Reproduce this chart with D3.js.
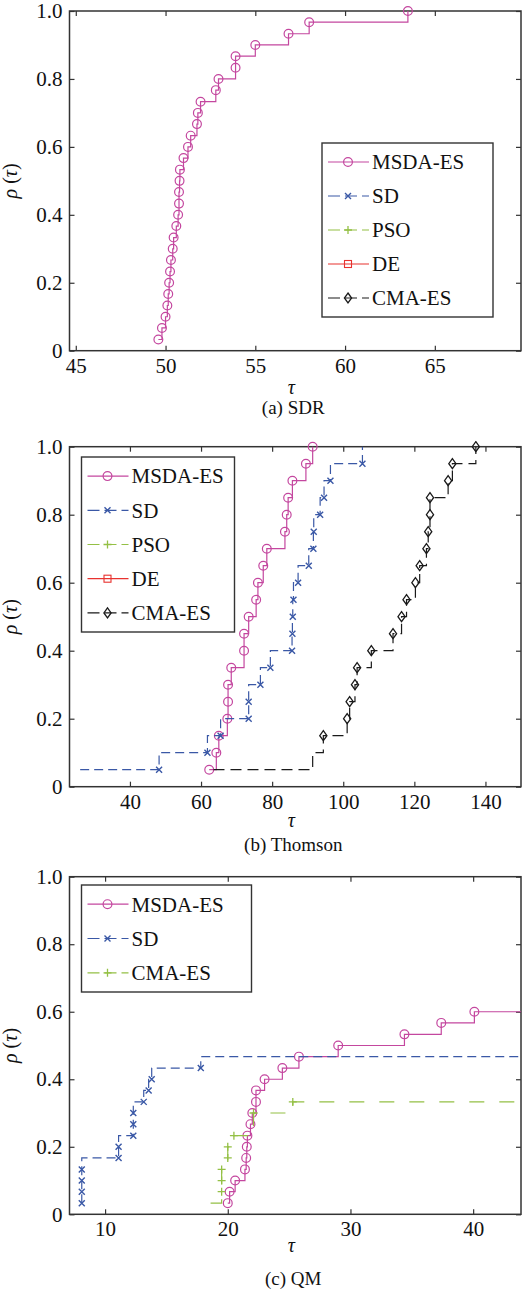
<!DOCTYPE html>
<html>
<head>
<meta charset="utf-8">
<script src="https://cdn.jsdelivr.net/npm/d3@7"></script>
<style>
  body { margin: 0; background: #fff; }
  svg text { font-family: "Liberation Serif", "Times New Roman", serif; fill: #111; }
</style>
</head>
<body>
<div id="chart"></div>
<script>
/*
 *  DATA
 */
var yTicks = [0, 0.2, 0.4, 0.6, 0.8, 1.0];

// (a) SDR
var sdrTicks = [45, 50, 55, 60, 65];
var sdrRange = [44.65, 69.8];
var sdrMsdaX = [49.6, 49.8, 50.0, 50.1, 50.15, 50.2, 50.25, 50.3, 50.4, 50.45, 50.6, 50.7, 50.75, 50.75, 50.78,
                50.8, 51.0, 51.25, 51.4, 51.75, 51.8, 51.95, 52.8, 52.95, 53.9, 53.9, 55.0, 56.85, 58.0, 63.5];
var sdrMsdaY = [0.033, 0.067, 0.1, 0.133, 0.167, 0.2, 0.233, 0.267, 0.3, 0.333, 0.367, 0.4, 0.433, 0.467, 0.5,
                0.533, 0.567, 0.6, 0.633, 0.667, 0.7, 0.733, 0.767, 0.8, 0.833, 0.867, 0.9, 0.933, 0.967, 1.0];

// (b) Thomson
var thomsonTicks = [40, 60, 80, 100, 120, 140];
var thomsonRange = [23, 150];
var thomsonY = [0.05, 0.1, 0.15, 0.2, 0.25, 0.3, 0.35, 0.4, 0.45, 0.5, 0.55, 0.6, 0.65, 0.7, 0.75, 0.8, 0.85, 0.9, 0.95, 1.0];
var thomsonMsdaX = [62.3, 64.3, 65.0, 67.4, 67.6, 67.6, 68.5, 72.1, 72.1, 73.4, 75.5, 76.0, 77.5, 78.5, 83.6, 84.1, 84.5, 85.7, 89.5, 91.4];
var thomsonSdX = [26, 48.2, 61.8, 65.5, 73.4, 73.4, 76.7, 79.5, 85.6, 85.7, 85.8, 86.0, 87.3, 90.3, 91.6, 91.7, 93.5, 94.6, 96.4, 105.4, 105.4];
var thomsonSdY = [0.05, 0.05, 0.1, 0.15, 0.2, 0.25, 0.3, 0.35, 0.4, 0.45, 0.5, 0.55, 0.6, 0.65, 0.7, 0.75, 0.8, 0.85, 0.9, 0.95, 1.0];
var thomsonSdNoMark = [0, 20];
var thomsonCmaX = [63.5, 91.4, 94.4, 101.1, 101.8, 103.3, 103.9, 107.9, 114.0, 116.4, 117.8, 120.3, 121.5, 123.4, 123.9, 124.4, 124.4, 129.5, 130.7, 137.3];
var thomsonCmaNoMark = [0, 1];

// (c) QM
var qmTicks = [10, 20, 30, 40];
var qmRange = [7.1, 43.9];
var qmMsdaX = [20.0, 20.15, 20.6, 21.4, 21.5, 21.55, 21.6, 21.85, 22.0, 22.3, 22.3, 23.0, 24.45, 25.8, 29.0, 34.4, 37.4, 40.1, 43.9];
var qmMsdaY = [0.033, 0.067, 0.1, 0.133, 0.167, 0.2, 0.233, 0.267, 0.3, 0.333, 0.367, 0.4, 0.433, 0.467, 0.5, 0.533, 0.567, 0.6, 0.6];
var qmMsdaNoMark = [18];
var qmSdX = [8.1, 8.1, 8.1, 8.1, 11.1, 11.1, 12.3, 12.3, 12.3, 13.15, 13.55, 13.8, 17.8, 43.9];
var qmSdY = [0.033, 0.067, 0.1, 0.133, 0.167, 0.2, 0.233, 0.267, 0.3, 0.333, 0.367, 0.4, 0.433, 0.467];
var qmSdNoMark = [13];
var qmCmaX = [18.6, 19.5, 19.5, 19.5, 20.0, 20.0, 20.5, 22.1, 25.3, 43.9];
var qmCmaY = [0.033, 0.067, 0.1, 0.133, 0.167, 0.2, 0.233, 0.3, 0.333, 0.333];
var qmCmaNoMark = [0, 9];

var legendFull = ["MSDA-ES", "SD", "PSO", "DE", "CMA-ES"];
var legendQm = ["MSDA-ES", "SD", "CMA-ES"];

/*
 *  STYLES
 */
var col = {msda: "#c4479f", sd: "#3a58a6", green: "#94c045", de: "#e8322f", black: "#1a1a1a"};
var styles = {
    "MSDA-ES": {color: col.msda, marker: "circle", dash: null},
    "SD": {color: col.sd, marker: "x", dash: "9,5"},
    "PSO": {color: col.green, marker: "plus", dash: "9,5"},
    "DE": {color: col.de, marker: "square", dash: null},
    "CMA-ES": {color: col.black, marker: "diamond", dash: "11,6"},
    "CMA-ES-green": {color: col.green, marker: "plus", dash: "15,15"}
};

var W = 530, H = 1293;
var left = 69.5, right = 521;

var svg = d3.select("#chart").append("svg")
    .attr("width", W)
    .attr("height", H);

var panels = [
    {id: "a", top: 11, bottom: 350.7, range: sdrRange, ticks: sdrTicks, caption: "(a) SDR", tauDy: 43, capDy: 63,
     legend: {x: 322, y: 143, w: 171, h: 174, names: legendFull, style: ["MSDA-ES", "SD", "PSO", "DE", "CMA-ES"]},
     series: [
        {style: "MSDA-ES", x: sdrMsdaX, y: sdrMsdaY, curve: d3.curveStepAfter, skip: []}
     ]},
    {id: "b", top: 446.7, bottom: 786.7, range: thomsonRange, ticks: thomsonTicks, caption: "(b) Thomson", tauDy: 40, capDy: 64,
     legend: {x: 81.5, y: 457, w: 153, h: 175, names: legendFull, style: ["MSDA-ES", "SD", "PSO", "DE", "CMA-ES"]},
     series: [
        {style: "MSDA-ES", x: thomsonMsdaX, y: thomsonY, curve: d3.curveStepAfter, skip: []},
        {style: "SD", x: thomsonSdX, y: thomsonSdY, curve: d3.curveStepBefore, skip: thomsonSdNoMark},
        {style: "CMA-ES", x: thomsonCmaX, y: thomsonY, curve: d3.curveStepAfter, skip: thomsonCmaNoMark}
     ]},
    {id: "c", top: 876.7, bottom: 1214.3, range: qmRange, ticks: qmTicks, caption: "(c) QM", tauDy: 38, capDy: 71,
     legend: {x: 81.5, y: 885, w: 170, h: 107, names: legendQm, style: ["MSDA-ES", "SD", "CMA-ES-green"]},
     series: [
        {style: "MSDA-ES", x: qmMsdaX, y: qmMsdaY, curve: d3.curveStepAfter, skip: qmMsdaNoMark},
        {style: "SD", x: qmSdX, y: qmSdY, curve: d3.curveStepBefore, skip: qmSdNoMark},
        {style: "CMA-ES-green", x: qmCmaX, y: qmCmaY, curve: d3.curveStepAfter, skip: qmCmaNoMark}
     ]}
];

function drawMarker(g, type, x, y, color) {
    if (type == "circle") {
        g.append("circle").attr("cx", x).attr("cy", y).attr("r", 4.4)
            .attr("fill", "none").attr("stroke", color).attr("stroke-width", 1.2);
    } else if (type == "x") {
        var s = 3;
        g.append("path").attr("d", "M" + (x - s) + "," + (y - s) + "L" + (x + s) + "," + (y + s) +
                "M" + (x - s) + "," + (y + s) + "L" + (x + s) + "," + (y - s))
            .attr("stroke", color).attr("stroke-width", 1.4);
    } else if (type == "plus") {
        var p = 4;
        g.append("path").attr("d", "M" + (x - p) + "," + y + "L" + (x + p) + "," + y +
                "M" + x + "," + (y - p) + "L" + x + "," + (y + p))
            .attr("stroke", color).attr("stroke-width", 1.3);
    } else if (type == "square") {
        g.append("rect").attr("x", x - 3.5).attr("y", y - 3.5).attr("width", 7).attr("height", 7)
            .attr("fill", "none").attr("stroke", color).attr("stroke-width", 1.1);
    } else if (type == "diamond") {
        g.append("path").attr("d", "M" + x + "," + (y - 5) + "L" + (x + 3.6) + "," + y +
                "L" + x + "," + (y + 5) + "L" + (x - 3.6) + "," + y + "Z")
            .attr("fill", "none").attr("stroke", color).attr("stroke-width", 1.3);
    }
}

panels.forEach(function(p) {
    var g = svg.append("g").attr("class", "panel-" + p.id);

    var x = d3.scaleLinear().domain(p.range).range([left, right]);
    var y = d3.scaleLinear().domain([0, 1]).range([p.bottom, p.top]);

    g.append("clipPath").attr("id", "clip-" + p.id)
        .append("rect").attr("x", left).attr("y", p.top - 6)
        .attr("width", right - left).attr("height", p.bottom - p.top + 6);

    // axes, ticks pointing inward on all four sides
    var fmt = function(d) { return d === 0 ? "0" : d.toFixed(1); };
    var gl = g.append("g").attr("transform", "translate(" + left + ",0)")
        .call(d3.axisLeft(y).tickValues(yTicks).tickFormat(fmt).tickSizeInner(-5).tickSizeOuter(0).tickPadding(7));
    var gr = g.append("g").attr("transform", "translate(" + right + ",0)")
        .call(d3.axisRight(y).tickValues(yTicks).tickFormat("").tickSizeInner(-5).tickSizeOuter(0));
    var gb = g.append("g").attr("transform", "translate(0," + p.bottom + ")")
        .call(d3.axisBottom(x).tickValues(p.ticks).tickSizeInner(-5).tickSizeOuter(0).tickPadding(7));
    var gt = g.append("g").attr("transform", "translate(0," + p.top + ")")
        .call(d3.axisTop(x).tickValues(p.ticks).tickFormat("").tickSizeInner(-5).tickSizeOuter(0));
    [gl, gr, gb, gt].forEach(function(a) {
        a.selectAll("path.domain").remove();
        a.selectAll("line").attr("stroke", "#333").attr("stroke-width", 1.2);
        a.selectAll("text").attr("font-size", 21).attr("fill", "#111")
            .attr("font-family", "Liberation Serif, Times New Roman, serif");
    });

    g.append("rect").attr("x", left).attr("y", p.top)
        .attr("width", right - left).attr("height", p.bottom - p.top)
        .attr("fill", "none").attr("stroke", "#333").attr("stroke-width", 1.5);

    // series
    var plot = g.append("g").attr("clip-path", "url(#clip-" + p.id + ")");
    p.series.forEach(function(s) {
        var st = styles[s.style];
        var pts = s.x.map(function(v, i) { return [v, s.y[i]]; });
        var line = d3.line()
            .x(function(d) { return x(d[0]); })
            .y(function(d) { return y(d[1]); })
            .curve(s.curve);
        plot.append("path")
            .datum(pts)
            .attr("fill", "none")
            .attr("stroke", st.color)
            .attr("stroke-width", 1.2)
            .attr("stroke-dasharray", st.dash)
            .attr("d", line);
        pts.forEach(function(d, i) {
            if (s.skip.indexOf(i) >= 0) { return; }
            drawMarker(plot, st.marker, x(d[0]), y(d[1]), st.color);
        });
    });

    // labels
    var yl = g.append("text")
        .attr("transform", "translate(17," + ((p.top + p.bottom) / 2) + ")rotate(-90)")
        .attr("text-anchor", "middle")
        .attr("font-size", 20);
    yl.append("tspan").attr("font-style", "italic").text("ρ");
    yl.append("tspan").text(" (");
    yl.append("tspan").attr("font-style", "italic").text("τ");
    yl.append("tspan").text(")");

    g.append("text")
        .attr("x", (left + right) / 2 - 4)
        .attr("y", p.bottom + p.tauDy)
        .attr("text-anchor", "middle")
        .attr("font-size", 20)
        .attr("font-style", "italic")
        .text("τ");

    g.append("text")
        .attr("x", (left + right) / 2 - 2)
        .attr("y", p.bottom + p.capDy)
        .attr("text-anchor", "middle")
        .attr("font-size", 19)
        .text(p.caption);

    // legend
    var L = p.legend;
    var lg = g.append("g");
    lg.append("rect").attr("x", L.x).attr("y", L.y).attr("width", L.w).attr("height", L.h)
        .attr("fill", "#fff").attr("stroke", "#333").attr("stroke-width", 1.4);
    var rowH = (L.h - 4) / L.names.length;
    L.names.forEach(function(name, i) {
        var st = styles[L.style[i]];
        var cy = L.y + 2 + rowH * (i + 0.5);
        lg.append("line")
            .attr("x1", L.x + 6).attr("x2", L.x + 47)
            .attr("y1", cy).attr("y2", cy)
            .attr("stroke", st.color).attr("stroke-width", 1.2)
            .attr("stroke-dasharray", st.dash ? "12,5" : null);
        drawMarker(lg, st.marker, L.x + 26, cy, st.color);
        lg.append("text")
            .attr("x", L.x + 50)
            .attr("y", cy)
            .attr("dy", "0.35em")
            .attr("font-size", 21)
            .text(name);
    });
});
</script>
</body>
</html>
